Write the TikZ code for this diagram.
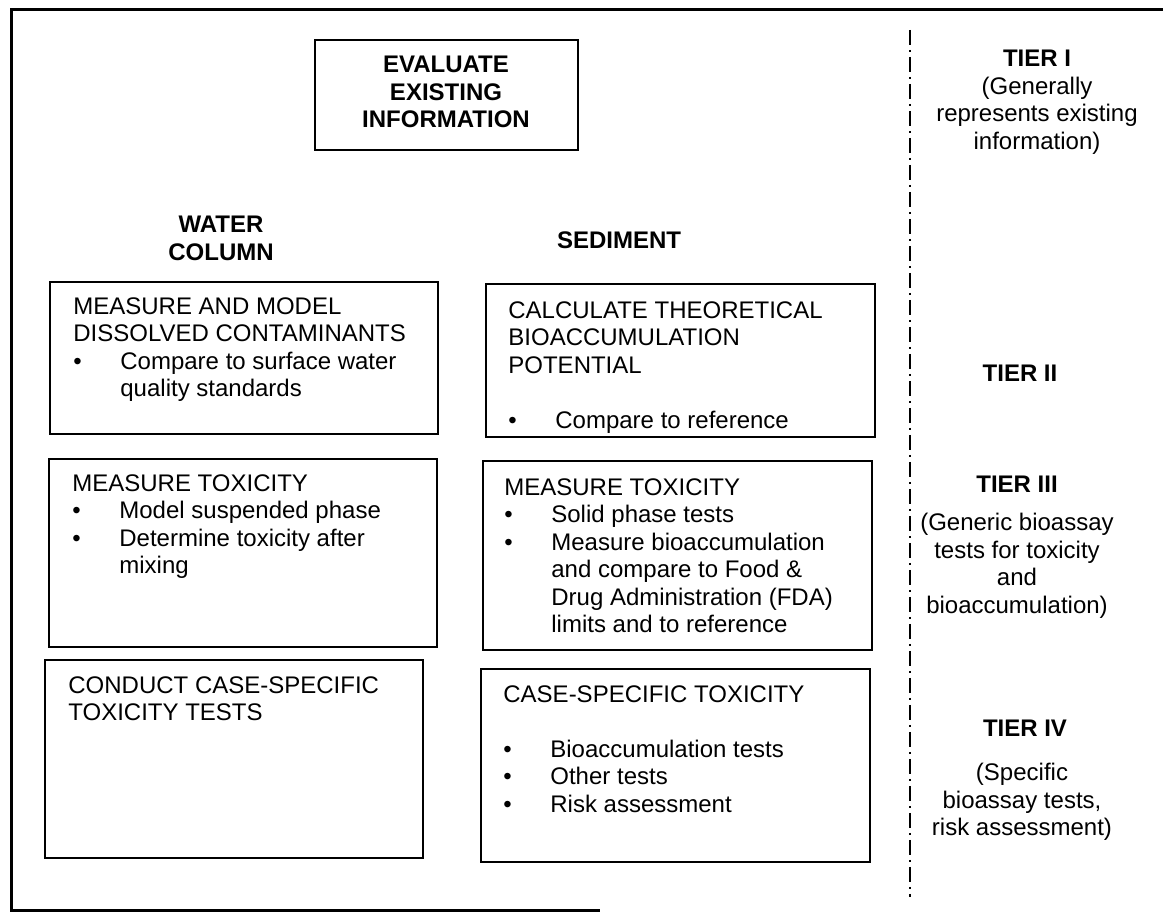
\documentclass[tikz,border=0pt]{standalone}
\usepackage{fontspec}
\setmainfont{Liberation Sans}
\newcommand{\bulletitem}{\makebox[23.5pt][l]{\textbullet}}
\newcommand{\bulletcont}{\hspace*{23.5pt}}

\begin{document}
\begin{tikzpicture}[x=0.5pt, y=-0.5pt,
    panel/.style={line width=1.1pt},
    basetext/.style={inner sep=0pt, font=\fontsize{12pt}{13.75pt}\selectfont},
    boxtext/.style={basetext, anchor=north west, align=left},
    headtext/.style={basetext, anchor=north, align=center, font=\fontsize{12pt}{13.75pt}\selectfont\bfseries},
    tiertext/.style={basetext, anchor=north, align=center}]
    \useasboundingbox (0,0) rectangle (1163,913);

    % Outer frame and tier divider
    \draw[line width=1.5pt] (1163,10) -- (11,10) -- (11,911) -- (600,911);
    \draw[line width=1.2pt, dash pattern=on 7.5pt off 2.5pt on 1pt off 2.5pt] (910,30) -- (910,897);

    % Existing information
    \draw[panel] (315,40) rectangle (578,150);
    \node[headtext] (evaluate) at (446,56) {EVALUATE\\EXISTING\\INFORMATION};

    % Column heads
    \node[headtext] (water) at (221,216) {WATER\\COLUMN};
    \node[headtext] (sediment) at (619,231) {SEDIMENT};

    % Water column
    \draw[panel] (50,282) rectangle (438,434);
    \node[boxtext] (measuremodel) at (73,297) {MEASURE AND MODEL\\DISSOLVED CONTAMINANTS\\\bulletitem Compare to surface water\\\bulletcont quality standards};
    \draw[panel] (49,459) rectangle (437,647);
    \node[boxtext] (watertox) at (72,474) {MEASURE TOXICITY\\\bulletitem Model suspended phase\\\bulletitem Determine toxicity after\\\bulletcont mixing};
    \draw[panel] (45,660) rectangle (423,858);
    \node[boxtext] (casetests) at (68,676) {CONDUCT CASE-SPECIFIC\\TOXICITY TESTS};

    % Sediment
    \draw[panel] (486,284) rectangle (875,437);
    \node[boxtext] (theoretical) at (508,301) {CALCULATE THEORETICAL\\BIOACCUMULATION\\POTENTIAL\\[13.75pt]\bulletitem Compare to reference};
    \draw[panel] (483,461) rectangle (872,650);
    \node[boxtext] (sedtox) at (504,478) {MEASURE TOXICITY\\\bulletitem Solid phase tests\\\bulletitem Measure bioaccumulation\\\bulletcont and compare to Food \&\\\bulletcont Drug Administration (FDA)\\\bulletcont limits and to reference};
    \draw[panel] (481,669) rectangle (870,862);
    \node[boxtext] (casetox) at (503,685) {CASE-SPECIFIC TOXICITY\\[13.75pt]\bulletitem Bioaccumulation tests\\\bulletitem Other tests\\\bulletitem Risk assessment};

    % Tiers
    \node[tiertext] (tier1) at (1037,50) {\textbf{TIER I}\\(Generally\\represents existing\\information)};
    \node[headtext] (tier2) at (1020,365) {TIER II};
    \node[headtext] (tier3) at (1017,476) {TIER III};
    \node[tiertext] (tier3note) at (1017,513) {(Generic bioassay\\tests for toxicity\\and\\bioaccumulation)};
    \node[headtext] (tier4) at (1025,720) {TIER IV};
    \node[tiertext] (tier4note) at (1022,763) {(Specific\\bioassay tests,\\risk assessment)};
\end{tikzpicture}
\end{document}
